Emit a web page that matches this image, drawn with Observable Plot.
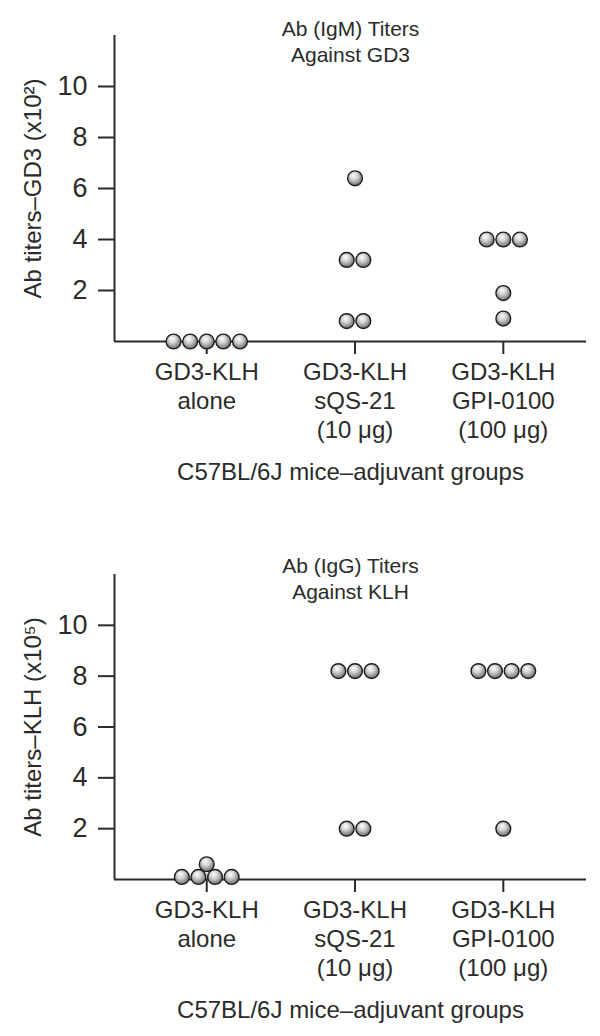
<!DOCTYPE html>
<html>
<head>
<meta charset="utf-8">
<script src="https://cdn.jsdelivr.net/npm/d3@7"></script>
<script src="https://cdn.jsdelivr.net/npm/@observablehq/plot@0.6"></script>
<style>
  html, body { margin: 0; padding: 0; background: #fff; }
  #chart svg { display: block; }
</style>
</head>
<body>
<div id="chart"></div>
<script>
// ---- data ----
const groups = ["GD3-KLH\nalone", "GD3-KLH\nsQS-21\n(10 μg)", "GD3-KLH\nGPI-0100\n(100 μg)"];
const yTicks = [2, 4, 6, 8, 10];
const xLabel = "C57BL/6J mice–adjuvant groups";

const igmTitle = "Ab (IgM) Titers\nAgainst GD3";
const igmYLabel = "Ab titers–GD3 (x10²)";
const igmAlone = [0, 0, 0, 0, 0];
const igmSqs21 = [6.4, 3.2, 3.2, 0.8, 0.8];
const igmGpi = [4, 4, 4, 1.9, 0.9];

const iggTitle = "Ab (IgG) Titers\nAgainst KLH";
const iggYLabel = "Ab titers–KLH (x10⁵)";
const iggAlone = [0.6, 0.1, 0.1, 0.1, 0.1];
const iggSqs21 = [8.2, 8.2, 8.2, 2, 2];
const iggGpi = [8.2, 8.2, 8.2, 8.2, 2];

// ---- layout helpers ----
const xDomain = [-0.622, 2.561];
const slot = 0.112; // horizontal spacing of touching dots, in x units
const ink = "#2b2b2b";
const font = "'Liberation Sans', Arial, Helvetica, sans-serif";

function toRows(series) {
  const rows = [];
  series.forEach((vals, g) => {
    const byVal = d3.group(vals, v => v);
    for (const [v, arr] of byVal) {
      arr.forEach((_, i) => rows.push({g, v, x: g + (i - (arr.length - 1) / 2) * slot}));
    }
  });
  return rows;
}

function panel({series, title, yLabel, marginTop, marginBottom, titleDy, id}) {
  const rows = toRows(series);
  const svg = Plot.plot({
    width: 600,
    height: 518,
    marginLeft: 114,
    marginRight: 14,
    marginTop,
    marginBottom,
    style: {fontFamily: font, color: ink, background: "#fff"},
    x: {domain: xDomain, axis: null},
    y: {domain: [0, 12], axis: null},
    marks: [
      Plot.ruleX([xDomain[0]], {stroke: ink, strokeWidth: 2}),
      Plot.ruleY([0], {stroke: ink, strokeWidth: 2}),
      Plot.axisY(yTicks, {
        anchor: "left", tickSize: 16, tickPadding: 11, fontSize: 27,
        stroke: ink, strokeWidth: 2, fill: ink, label: null
      }),
      Plot.axisX([0, 1, 2], {
        anchor: "bottom", tickSize: 13, tickPadding: 5, fontSize: 24, lineHeight: 1.2,
        tickFormat: i => groups[i], stroke: ink, strokeWidth: 2, fill: ink, label: null
      }),
      Plot.text([title], {
        text: d => d, frameAnchor: "top", lineAnchor: "middle", dy: titleDy,
        fontSize: 21, lineHeight: 1.24, fill: ink
      }),
      Plot.text([yLabel], {
        text: d => d, frameAnchor: "left", textAnchor: "middle", rotate: -90, dx: -81,
        fontSize: 24, fill: ink
      }),
      Plot.text([xLabel], {
        text: d => d, frameAnchor: "bottom", lineAnchor: "middle", dy: 131,
        fontSize: 24, fill: ink
      }),
      Plot.dot(rows, {x: "x", y: "v", r: 7.4, fill: `url(#${id})`, stroke: "#1e1e1e", strokeWidth: 1.4})
    ]
  });
  const defs = d3.select(svg).insert("defs", ":first-child");
  const grad = defs.append("radialGradient").attr("id", id)
    .attr("cx", "45%").attr("cy", "40%").attr("r", "60%").attr("fx", "40%").attr("fy", "30%");
  grad.append("stop").attr("offset", "0%").attr("stop-color", "#ffffff");
  grad.append("stop").attr("offset", "45%").attr("stop-color", "#d0d0d0");
  grad.append("stop").attr("offset", "100%").attr("stop-color", "#6a6a6a");
  return svg;
}

const root = document.getElementById("chart");
root.appendChild(panel({
  series: [igmAlone, igmSqs21, igmGpi], title: igmTitle, yLabel: igmYLabel,
  marginTop: 35, marginBottom: 177, titleDy: 5.5, id: "ball1"
}));
root.appendChild(panel({
  series: [iggAlone, iggSqs21, iggGpi], title: iggTitle, yLabel: iggYLabel,
  marginTop: 56, marginBottom: 157, titleDy: 3.5, id: "ball2"
}));
</script>
</body>
</html>
